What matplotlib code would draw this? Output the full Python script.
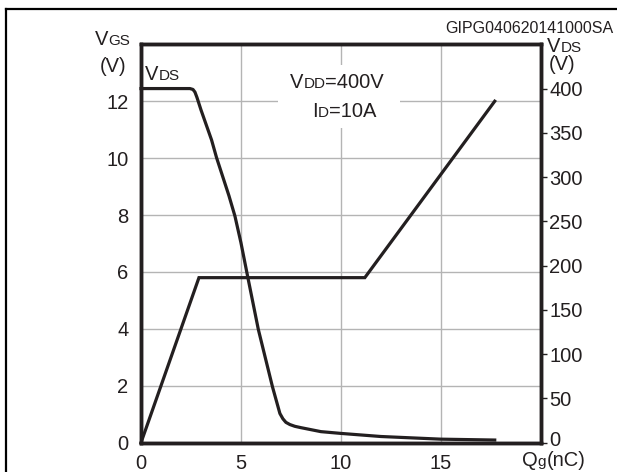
import numpy as np
import matplotlib
matplotlib.use("Agg")
import matplotlib.pyplot as plt
import matplotlib.transforms as mtransforms
from matplotlib.lines import Line2D

plt.rcParams['font.family'] = ['Liberation Sans', 'DejaVu Sans']

# gate charge data
qg_vgs = [0, 2.9, 11.2, 17.7]
vgs = [0, 5.8, 5.8, 12.0]

qg_vds = [0, 2.45, 2.6, 2.7, 2.8, 3.0, 3.53, 3.78, 4.4, 4.7, 5.0, 5.37, 5.87,
          6.58, 6.95, 7.1, 7.25, 7.45, 7.7, 8.0, 9.0, 10.0, 12.0, 15.0, 17.7]
vds = [400, 400, 399, 396, 390, 376, 342, 322, 279, 256, 226, 184, 128,
       63, 33, 27, 23, 20.5, 18.5, 17, 12.5, 10.5, 7, 4, 3]

x_ticks = [0, 5, 10, 15]
left_ticks = [0, 2, 4, 6, 8, 10, 12]
right_ticks = [0, 50, 100, 150, 200, 250, 300, 350, 400]

W, H = 617, 472
ink = '#231f20'
grid_c = '#b4b4b4'

fig = plt.figure(figsize=(W / 100, H / 100), dpi=100)
ax = fig.add_axes([141 / W, 1 - 442.7 / H, (540.7 - 141) / W, (442.7 - 44.3) / H])
ax2 = ax.twinx()

ax.set_xlim(0, 20)
ax.set_ylim(0, 14)
ax2.set_ylim(0, 450)

ax.set_xticks(x_ticks)
ax.set_yticks(left_ticks)
ax2.set_yticks(right_ticks)

ax.grid(True, color=grid_c, lw=1.0)
ax.set_axisbelow(True)

for a in (ax, ax2):
    for s in a.spines.values():
        s.set_linewidth(2.5)
        s.set_color(ink)

ax.tick_params(axis='both', length=0, labelsize=14.5, colors=ink)
ax.tick_params(axis='y', pad=9)
ax.tick_params(axis='x', pad=8)
ax2.tick_params(axis='y', length=4, width=1, direction='out', labelsize=14.5,
                colors=ink, pad=2)

ax.plot(qg_vgs, vgs, color=ink, lw=2.3, solid_joinstyle='miter', zorder=3, clip_on=False)
ax2.plot(qg_vds, vds, color=ink, lw=2.3, solid_joinstyle='round', zorder=3, clip_on=False)

# right-hand "0" sits a little higher in the original
lab0 = ax2.get_yticklabels()[0]
lab0.set_transform(lab0.get_transform() +
                   mtransforms.ScaledTranslation(0, 4 / 100, fig.dpi_scale_trans))

fig.canvas.draw()
rend = fig.canvas.get_renderer()


def sc(x, y, parts, ha='left'):
    # draw pieces of text one after another on the same baseline (pixel coords)
    widths = []
    for txt, size in parts:
        t = fig.text(0, 0, txt, fontsize=size)
        widths.append(t.get_window_extent(rend).width)
        t.remove()
    if ha == 'right':
        x = x - sum(widths)
    for (txt, size), w in zip(parts, widths):
        fig.text(x / W, 1 - y / H, txt, fontsize=size, color=ink, va='baseline', zorder=3)
        x += w


sc(95, 45, [('V', 14.5), ('GS', 11)])
sc(100, 72, [('(V)', 14.5)])
sc(145, 80, [('V', 14.5), ('DS', 11)])
sc(547, 52, [('V', 14.5), ('DS', 11)])
sc(549, 70, [('(V)', 14.5)])
sc(522, 466, [('Q', 14.5), ('g', 11), ('(nC)', 14.5)])
sc(613, 33, [('GIPG040620141000SA', 11.5)], ha='right')

# condition box (white background hides grid lines)
fig.patches.append(plt.Rectangle((278 / W, 1 - 128 / H), 122 / W, 63 / H,
                                 transform=fig.transFigure, facecolor='white',
                                 edgecolor='none', zorder=1))
sc(290, 88, [('V', 14.5), ('DD', 11), ('=400V', 14.5)])
sc(312, 117, [('I', 14.5), ('D', 11), ('=10A', 14.5)])

# outer frame of the datasheet figure
fig.add_artist(Line2D([6 / W, 1], [1 - 9 / H, 1 - 9 / H], color='black', lw=1.6))
fig.add_artist(Line2D([6 / W, 6 / W], [0, 1 - 9 / H], color='black', lw=1.6))

fig.savefig('out.png', dpi=100)
